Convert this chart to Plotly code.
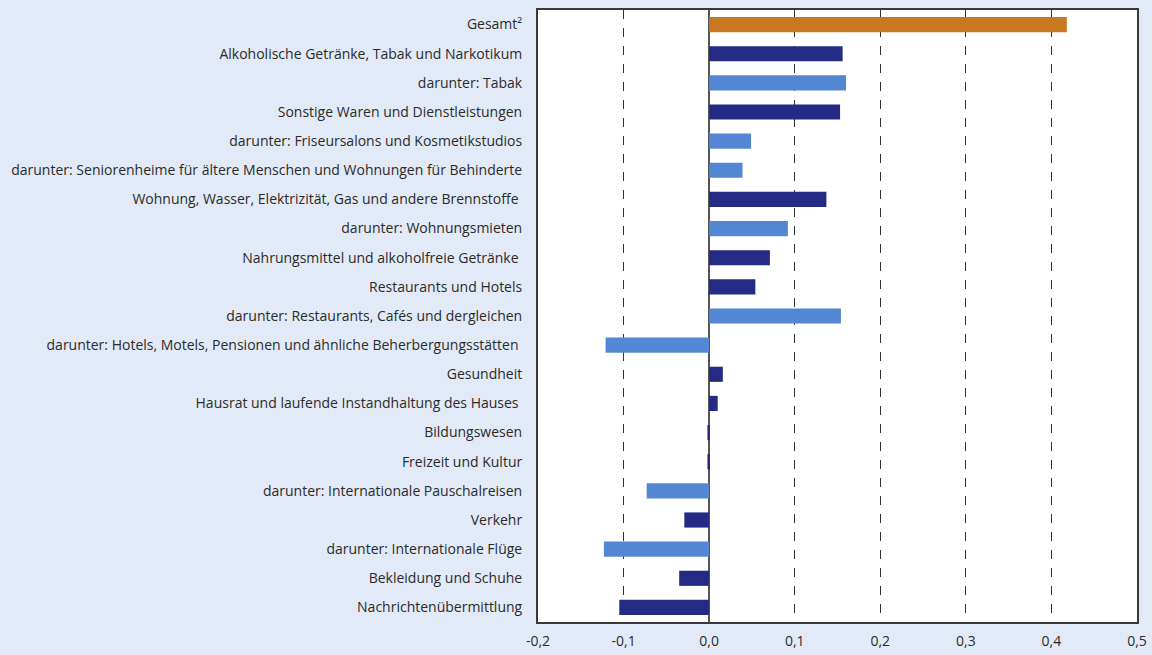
import plotly.graph_objects as go

categories = [
    "Gesamt²",
    "Alkoholische Getränke, Tabak und Narkotikum",
    "darunter: Tabak",
    "Sonstige Waren und Dienstleistungen",
    "darunter: Friseursalons und Kosmetikstudios",
    "darunter: Seniorenheime für ältere Menschen und Wohnungen für Behinderte",
    "Wohnung, Wasser, Elektrizität, Gas und andere Brennstoffe ",
    "darunter: Wohnungsmieten",
    "Nahrungsmittel und alkoholfreie Getränke ",
    "Restaurants und Hotels",
    "darunter: Restaurants, Cafés und dergleichen",
    "darunter: Hotels, Motels, Pensionen und ähnliche Beherbergungsstätten ",
    "Gesundheit",
    "Hausrat und laufende Instandhaltung des Hauses ",
    "Bildungswesen",
    "Freizeit und Kultur",
    "darunter: Internationale Pauschalreisen",
    "Verkehr",
    "darunter: Internationale Flüge",
    "Bekleidung und Schuhe",
    "Nachrichtenübermittlung",
]
values = [0.418, 0.156, 0.160, 0.153, 0.049, 0.039, 0.137, 0.092, 0.071, 0.054,
          0.154, -0.121, 0.016, 0.010, -0.002, -0.002, -0.073, -0.029, -0.123,
          -0.035, -0.105]
kinds = ["total", "main", "sub", "main", "sub", "sub", "main", "sub", "main", "main",
         "sub", "sub", "main", "main", "main", "main", "sub", "main", "sub", "main", "main"]
tick_vals = [-0.2, -0.1, 0.0, 0.1, 0.2, 0.3, 0.4, 0.5]
tick_text = ["-0,2", "-0,1", "0,0", "0,1", "0,2", "0,3", "0,4", "0,5"]

color_map = {"total": "#C8781E", "main": "#232B84", "sub": "#5387D3"}
colors = [color_map[k] for k in kinds]

fig = go.Figure(go.Bar(
    x=values, y=categories, orientation="h",
    marker=dict(color=colors, line=dict(width=0)),
    width=0.52,
))

fig.update_layout(
    width=1152, height=655,
    paper_bgcolor="#E3EAF7", plot_bgcolor="#FFFFFF",
    margin=dict(l=538, r=15, t=10, b=33, autoexpand=False),
    font=dict(family="Open Sans, sans-serif", size=14, color="#2a2a2a"),
    showlegend=False,
)
fig.update_xaxes(
    range=[-0.2, 0.5], tickvals=tick_vals, ticktext=tick_text,
    showgrid=True, gridcolor="#333333", griddash="dash", gridwidth=1,
    zeroline=True, zerolinecolor="#555555", zerolinewidth=2,
    showline=True, linecolor="#3a3a3a", linewidth=2, mirror=True,
    ticks="", tickfont=dict(size=14), automargin=False, ticklabelstandoff=5,
)
fig.update_yaxes(
    autorange="reversed", showgrid=False,
    showline=True, linecolor="#3a3a3a", linewidth=2, mirror=True,
    ticks="", ticklabelstandoff=11, tickfont=dict(size=14), automargin=False,
)

fig.write_html(
    "out.html",
    config={"displayModeBar": False, "responsive": False},
    post_script="document.body.style.margin='0';document.body.style.padding='0';document.body.style.overflow='hidden';",
)
